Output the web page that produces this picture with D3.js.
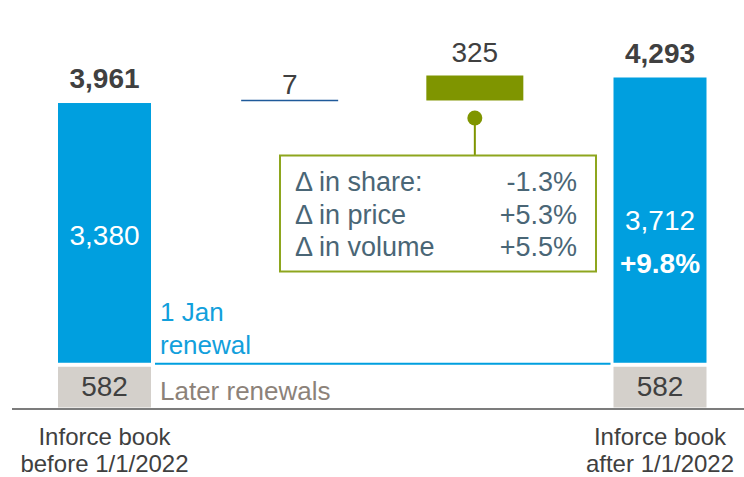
<!DOCTYPE html>
<html>
  <head>
    <style>
      body { margin: 0; background: #fff; }
      text { font-family: "Liberation Sans", Arial, sans-serif; }
      .val { font-size: 28px; fill: #404040; text-anchor: middle; }
      .total { font-weight: bold; }
      .inbar { fill: #fff; }
      .cat { font-size: 24px; fill: #404040; text-anchor: middle; }
      .box-text { font-size: 27px; fill: #4a6676; }
    </style>
  </head>
  <body>
    <script src="https://d3js.org/d3.v7.min.js"></script>
    <svg></svg>
    <script>
      // chart data
      const steps = ["before", "change7", "change325", "after"];
      const catLabels = [["Inforce book", "before 1/1/2022"], [], [], ["Inforce book", "after 1/1/2022"]];
      const laterRenewals = [582, 582];
      const janRenewal = [3380, 3712];
      const totals = [3961, 4293];
      const deltas = [7, 325];
      const growthLabel = "+9.8%";
      const boxLabels = ["\u0394 in share:", "\u0394 in price", "\u0394 in volume"];
      const boxValues = ["-1.3%", "+5.3%", "+5.5%"];

      const width = 744, height = 477;
      const barW = 93;

      const svg = d3.select("svg").attr("width", width).attr("height", height);

      const x = d3.scalePoint().domain(steps).range([104.5, 660]);
      const y = d3.scaleLinear().domain([0, totals[1]]).range([407.5, 77.5]);

      const fmt = d3.format(",");
      const blue = "#009fdf", grey = "#d4d0cb", olive = "#7f9500";

      // total bars (first and last)
      const ends = [steps[0], steps[3]];
      ends.forEach((s, i) => {
        // later renewals segment
        svg.append("rect")
          .attr("x", x(s) - barW / 2).attr("width", barW)
          .attr("y", y(laterRenewals[i]) + 4)
          .attr("height", y(0) - y(laterRenewals[i]) - 4)
          .attr("fill", grey);
        // 1 Jan renewal segment
        svg.append("rect")
          .attr("x", x(s) - barW / 2).attr("width", barW)
          .attr("y", y(totals[i]))
          .attr("height", y(laterRenewals[i]) - y(totals[i]))
          .attr("fill", blue);

        svg.append("text").attr("class", "val")
          .attr("x", x(s)).attr("y", (y(laterRenewals[i]) + y(0)) / 2 + 11)
          .text(fmt(laterRenewals[i]));
        svg.append("text").attr("class", "val total")
          .attr("x", x(s)).attr("y", y(totals[i]) - 15)
          .text(fmt(totals[i]));
      });

      // in-bar labels
      svg.append("text").attr("class", "val inbar")
        .attr("x", x(steps[0])).attr("y", 245)
        .text(fmt(janRenewal[0]));
      svg.append("text").attr("class", "val inbar")
        .attr("x", x(steps[3])).attr("y", 230)
        .text(fmt(janRenewal[1]));
      svg.append("text").attr("class", "val inbar total")
        .attr("x", x(steps[3])).attr("y", 273)
        .text(growthLabel);

      // delta steps
      const base7 = totals[0];
      svg.append("line")
        .attr("x1", x(steps[1]) - barW / 2 - 2).attr("x2", x(steps[1]) + barW / 2 + 2)
        .attr("y1", y(base7 + deltas[0]) - 2).attr("y2", y(base7 + deltas[0]) - 2)
        .attr("stroke", "#1f5a9a").attr("stroke-width", 1.5);
      svg.append("text").attr("class", "val")
        .attr("x", x(steps[1])).attr("y", 94)
        .text(deltas[0]);

      const base325 = totals[0] + deltas[0];
      svg.append("rect")
        .attr("x", x(steps[2]) - barW / 2 - 2).attr("width", barW + 4)
        .attr("y", y(base325 + deltas[1]) - 2)
        .attr("height", y(base325) - y(base325 + deltas[1]))
        .attr("fill", olive);
      svg.append("text").attr("class", "val")
        .attr("x", x(steps[2])).attr("y", 62)
        .text(deltas[1]);

      // callout
      svg.append("line")
        .attr("x1", x(steps[2])).attr("x2", x(steps[2]))
        .attr("y1", 118).attr("y2", 156)
        .attr("stroke", olive).attr("stroke-width", 2);
      svg.append("circle")
        .attr("cx", x(steps[2])).attr("cy", 118).attr("r", 7.5)
        .attr("fill", olive);
      svg.append("rect")
        .attr("x", 280).attr("y", 155.5).attr("width", 316).attr("height", 116)
        .attr("fill", "#fff").attr("stroke", "#8ea61e").attr("stroke-width", 2);
      boxLabels.forEach((t, i) => {
        svg.append("text").attr("class", "box-text")
          .attr("x", 295).attr("y", 191 + i * 32.5).text(t);
        svg.append("text").attr("class", "box-text")
          .attr("x", 577).attr("y", 191 + i * 32.5)
          .attr("text-anchor", "end").text(boxValues[i]);
      });

      // 1 Jan renewal divider
      svg.append("line")
        .attr("x1", x(steps[0]) + barW / 2 + 4).attr("x2", x(steps[3]) - barW / 2 - 3)
        .attr("y1", y(laterRenewals[0]) + 1).attr("y2", y(laterRenewals[0]) + 1)
        .attr("stroke", blue).attr("stroke-width", 2);
      svg.append("text").attr("x", 160).attr("y", 321)
        .style("font-size", "26px").attr("fill", "#12a0dc").text("1 Jan");
      svg.append("text").attr("x", 160).attr("y", 354)
        .style("font-size", "26px").attr("fill", "#12a0dc").text("renewal");
      svg.append("text").attr("x", 160).attr("y", 400)
        .style("font-size", "26px").attr("fill", "#8c8279").text("Later renewals");

      // baseline
      svg.append("line")
        .attr("x1", 12).attr("x2", width)
        .attr("y1", 409).attr("y2", 409)
        .attr("stroke", "#505050").attr("stroke-width", 1.5);

      // category labels
      steps.forEach((s, i) => {
        catLabels[i].forEach((line, j) => {
          svg.append("text").attr("class", "cat")
            .attr("x", x(s)).attr("y", 445 + j * 27)
            .text(line);
        });
      });
    </script>
  </body>
</html>
